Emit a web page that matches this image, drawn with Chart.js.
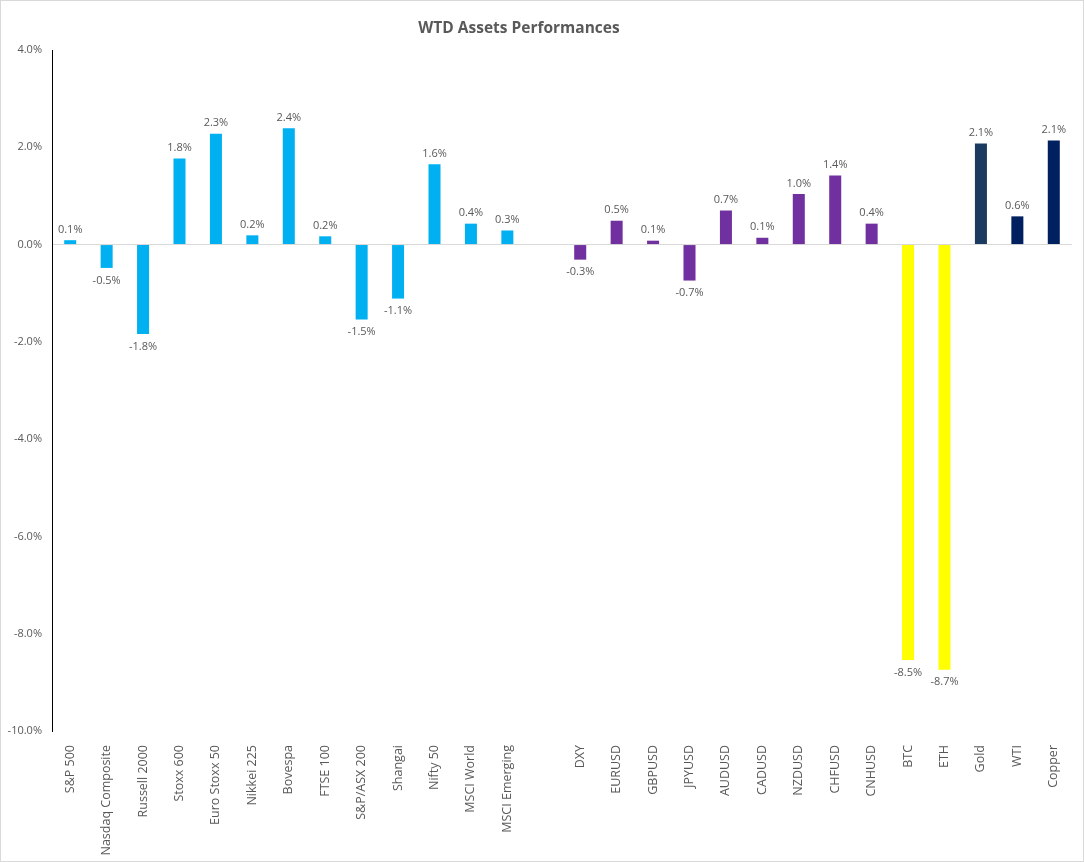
<!DOCTYPE html>
<html>
<head>
<meta charset="utf-8">
<script src="https://cdn.jsdelivr.net/npm/chart.js/dist/chart.umd.min.js"></script>
<style>
  html, body { margin: 0; padding: 0; background: #fff; }
  #wrap { width: 1082px; height: 860px; border: 1px solid #D9D9D9; }
</style>
</head>
<body>
<div id="wrap"><canvas id="myChart" width="1082" height="860"></canvas></div>
<script>
// categories, the blank one separates equities from fx
const labels = [
  "S&P 500", "Nasdaq Composite", "Russell 2000", "Stoxx 600", "Euro Stoxx 50",
  "Nikkei 225", "Bovespa", "FTSE 100", "S&P/ASX 200", "Shangai", "Nifty 50",
  "MSCI World", "MSCI Emerging", "",
  "DXY", "EURUSD", "GBPUSD", "JPYUSD", "AUDUSD", "CADUSD", "NZDUSD", "CHFUSD",
  "CNHUSD", "BTC", "ETH", "Gold", "WTI", "Copper",
];

// weekly performance in %
const performance = [
  0.09, -0.48, -1.84, 1.77, 2.28, 0.19, 2.39, 0.17, -1.54, -1.11, 1.65, 0.43, 0.29, null,
  -0.31, 0.49, 0.08, -0.74, 0.70, 0.14, 1.04, 1.42, 0.43, -8.54, -8.74, 2.08, 0.58, 2.14,
];

const groups = [
  "eq", "eq", "eq", "eq", "eq", "eq", "eq", "eq", "eq", "eq", "eq", "eq", "eq", "none",
  "fx", "fx", "fx", "fx", "fx", "fx", "fx", "fx", "fx", "crypto", "crypto", "gold", "cmd", "cmd",
];

const yTicks = [-10, -8, -6, -4, -2, 0, 2, 4];

const groupColors = {
  eq: "#00B0F0",
  fx: "#7030A0",
  crypto: "#FFFF00",
  gold: "#1B3A60",
  cmd: "#002060",
  none: "transparent",
};

const textColor = "#595959";
const fontFamily = "'Open Sans', 'DejaVu Sans', sans-serif";

// value labels above / below bars
const valueLabels = {
  id: "valueLabels",
  afterDatasetsDraw(chart) {
    const ctx = chart.ctx;
    const meta = chart.getDatasetMeta(0);
    ctx.save();
    ctx.font = "11px " + fontFamily;
    ctx.fillStyle = textColor;
    ctx.textAlign = "center";
    meta.data.forEach((bar, i) => {
      const v = performance[i];
      if (v === null) return;
      const txt = v.toFixed(1) + "%";
      if (v >= 0) {
        ctx.textBaseline = "bottom";
        ctx.fillText(txt, bar.x, bar.y - 5);
      } else {
        ctx.textBaseline = "top";
        ctx.fillText(txt, bar.x, bar.y + 7);
      }
    });
    ctx.restore();
  },
};

const chartTitle = {
  id: "chartTitle",
  afterDraw(chart) {
    const ctx = chart.ctx;
    ctx.save();
    ctx.font = "bold 15.5px " + fontFamily;
    ctx.fillStyle = textColor;
    ctx.textAlign = "center";
    ctx.textBaseline = "middle";
    ctx.fillText("WTD Assets Performances", 518, 28);
    ctx.restore();
  },
};

new Chart(document.getElementById("myChart"), {
  type: "bar",
  data: {
    labels: labels,
    datasets: [
      {
        data: performance,
        backgroundColor: groups.map((g) => groupColors[g]),
        categoryPercentage: 1,
        barPercentage: 0.33,
      },
    ],
  },
  options: {
    responsive: false,
    animation: false,
    layout: { padding: { top: 49, right: 11, bottom: 0, left: 0 } },
    plugins: {
      legend: { display: false },
      tooltip: { enabled: false },
      title: { display: false },
    },
    scales: {
      x: {
        grid: { display: false },
        border: { display: false },
        ticks: {
          color: textColor,
          font: { family: fontFamily, size: 12.5 },
          minRotation: 90,
          maxRotation: 90,
          autoSkip: false,
          padding: 6,
        },
        afterFit(scale) { scale.height = 130; },
      },
      y: {
        min: -10,
        max: 4,
        afterBuildTicks(scale) {
          scale.ticks = yTicks.map((v) => ({ value: v }));
        },
        grid: {
          drawTicks: false,
          color: (c) => (c.tick && c.tick.value === 0 ? "#D9D9D9" : "transparent"),
          lineWidth: 1,
        },
        border: { display: true, color: "#000000", width: 1 },
        ticks: {
          color: textColor,
          font: { family: fontFamily, size: 11 },
          padding: 10,
          callback: (v) => v.toFixed(1) + "%",
        },
        afterFit(scale) { scale.width = 51; },
      },
    },
  },
  plugins: [valueLabels, chartTitle],
});
</script>
</body>
</html>
